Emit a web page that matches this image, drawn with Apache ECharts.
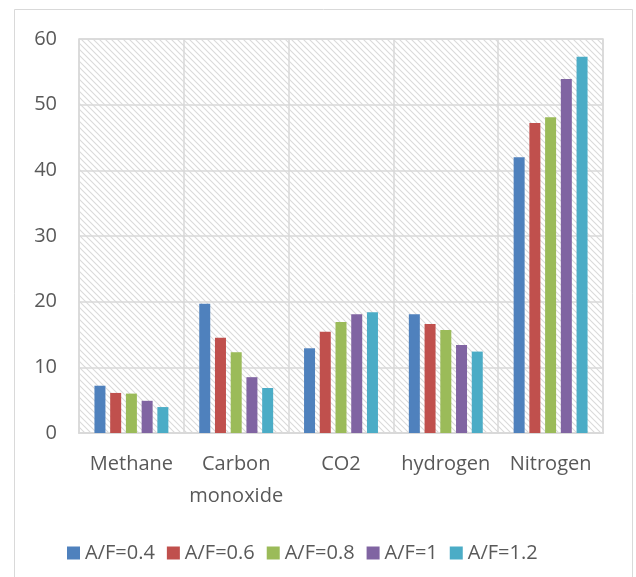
<!DOCTYPE html>
<html>
<head>
<meta charset="utf-8">
<script src="https://cdn.jsdelivr.net/npm/echarts@6/dist/echarts.min.js"></script>
<style>
html,body{margin:0;padding:0;background:#fff;}
#chart{width:636px;height:577px;}
</style>
</head>
<body>
<div id="chart"></div>
<script>
const categories = ['Methane', 'Carbon\nmonoxide', 'CO2', 'hydrogen', 'Nitrogen'];
const seriesNames = ['A/F=0.4', 'A/F=0.6', 'A/F=0.8', 'A/F=1', 'A/F=1.2'];
const af04 = [7.2, 19.7, 12.9, 18.1, 42.0];
const af06 = [6.1, 14.5, 15.4, 16.6, 47.2];
const af08 = [6.0, 12.3, 16.9, 15.7, 48.1];
const af10 = [4.9, 8.5, 18.1, 13.4, 53.9];
const af12 = [3.95, 6.85, 18.4, 12.4, 57.3];
const yTicks = [0, 10, 20, 30, 40, 50, 60];

const colors = ['#4F81BD', '#C0504D', '#9BBB59', '#8064A2', '#4BACC6'];
const allData = [af04, af06, af08, af10, af12];

// hatch pattern
const pc = document.createElement('canvas');
pc.width = 6; pc.height = 6;
const ctx = pc.getContext('2d');
ctx.fillStyle = '#ffffff';
ctx.fillRect(0, 0, 6, 6);
ctx.strokeStyle = '#dadada';
ctx.lineWidth = 1.1;
ctx.beginPath();
ctx.moveTo(-1, -1); ctx.lineTo(7, 7);
ctx.moveTo(-1, 5); ctx.lineTo(1, 7);
ctx.moveTo(5, -1); ctx.lineTo(7, 1);
ctx.stroke();

const font = 'Open Sans';
const textColor = '#595959';
const chart = echarts.init(document.getElementById('chart'), null, {renderer: 'canvas'});
chart.setOption({
  animation: false,
  backgroundColor: '#ffffff',
  color: colors,
  graphic: [{
    type: 'rect',
    shape: {x: 14.5, y: 9.5, width: 618, height: 580},
    style: {fill: 'none', stroke: '#d9d9d9', lineWidth: 1},
    silent: true
  }],
  grid: {
    left: 79, right: 33, top: 39, bottom: 144,
    show: true,
    backgroundColor: {image: pc, repeat: 'repeat'},
    borderColor: '#d9d9d9',
    borderWidth: 1.5
  },
  legend: {
    data: seriesNames,
    top: 538,
    left: 62,
    itemWidth: 13,
    itemHeight: 13,
    itemGap: 12,
    icon: 'rect',
    textStyle: {fontFamily: font, fontSize: 20, color: textColor}
  },
  xAxis: {
    type: 'category',
    data: categories,
    axisLine: {show: true, lineStyle: {color: '#d9d9d9', width: 2}},
    axisTick: {show: false},
    splitLine: {show: true, lineStyle: {color: '#d9d9d9', width: 1.5}},
    axisLabel: {fontFamily: font, fontSize: 20, color: textColor, margin: 15, lineHeight: 32, interval: 0}
  },
  yAxis: {
    type: 'value',
    min: yTicks[0],
    max: yTicks[yTicks.length - 1],
    interval: 10,
    axisLine: {show: false},
    axisTick: {show: false},
    splitLine: {show: true, lineStyle: {color: '#d9d9d9', width: 1.5}},
    axisLabel: {fontFamily: font, fontSize: 20, color: textColor, margin: 22}
  },
  series: seriesNames.map((n, i) => ({
    name: n,
    type: 'bar',
    data: allData[i],
    barWidth: 11,
    barGap: '43%',
    itemStyle: {color: colors[i]}
  }))
});
</script>
</body>
</html>
